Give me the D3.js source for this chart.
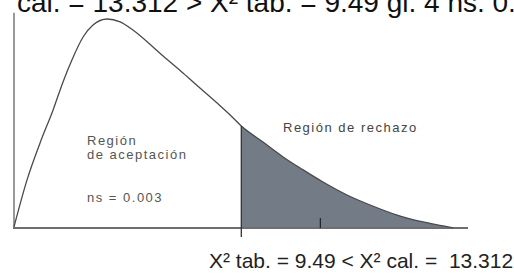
<!DOCTYPE html>
<html>
<head>
<meta charset="utf-8">
<script src="https://cdn.jsdelivr.net/npm/d3@7"></script>
<style>
  body { margin: 0; background: #fff; }
  svg { display: block; font-family: "Liberation Sans", Arial, sans-serif; }
  text { white-space: pre; }
</style>
</head>
<body>
<svg id="chart" width="514" height="275"></svg>
<script>
// values (schematic chi-square curve)
var curveX = [-1.5, -0.87, -0.24, 0.39, 0.87, 1.30, 1.84, 2.32, 3.00, 3.63, 4.25, 5.22, 5.71, 6.67, 7.49, 8.32, 8.95, 9.49,
              10.54, 11.51, 12.48, 13.44, 14.60, 15.72, 17.02, 18.28, 19.25, 19.73];
var curveY = [0.5, 23.0, 40.7, 56.5, 69.9, 80.4, 91.4, 97.1, 100, 98.6, 94.7, 86.6, 82.3, 74.2, 67.0, 59.8, 54.1, 48.8,
              41.1, 34.0, 27.8, 22.0, 15.8, 11.0, 6.2, 2.9, 1.0, 0];
var critValue = 9.49;   // X2 tab.
var calcValue = 13.312; // X2 cal.
var acceptLabels = ["Región", "de aceptación"];
var nsLabel = "ns = 0.003";
var rejectLabel = "Región de rechazo";
var topTitle = "cal. = 13.312 > X\u00b2 tab. = 9.49 gl. 4 ns. 0.05";
var bottomTitle = "X\u00b2 tab. = 9.49 < X\u00b2 cal. =  13.312";

var svg = d3.select("#chart");

//scales
var x = d3.scaleLinear().domain([-1.5, 20.45]).range([14, 468]);
var y = d3.scaleLinear().domain([0, 100]).range([228, 19]);

var pts = curveX.map(function (d, i) { return {x: d, y: curveY[i]}; });
var tail = pts.filter(function (d) { return d.x >= critValue; });

var line = d3.line().x(function (d) { return x(d.x); }).y(function (d) { return y(d.y); }).curve(d3.curveMonotoneX);
var area = d3.area().x(function (d) { return x(d.x); }).y0(y(0)).y1(function (d) { return y(d.y); }).curve(d3.curveMonotoneX);

/* rejection region */
svg.append("path").attr("d", area(tail)).attr("fill", "#737b86");

/* axes */
svg.append("line")
    .attr("x1", x(-1.5)).attr("x2", x(-1.5))
    .attr("y1", y(0)).attr("y2", y(103))
    .attr("stroke", "#999").attr("stroke-width", 2);
svg.append("line")
    .attr("x1", x.range()[0] - 1).attr("x2", x.range()[1])
    .attr("y1", y(0)).attr("y2", y(0))
    .attr("stroke", "#6f6f6f").attr("stroke-width", 2);

// curve
svg.append("path").attr("d", line(pts))
    .attr("fill", "none").attr("stroke", "#4a4a4a").attr("stroke-width", 1.3);

// critical value line + calc tick
var critY = curveY[curveX.indexOf(critValue)];
svg.append("line")
    .attr("x1", x(critValue)).attr("x2", x(critValue))
    .attr("y1", y(critY)).attr("y2", y(0) + 9)
    .attr("stroke", "#333").attr("stroke-width", 1.3);
svg.append("line")
    .attr("x1", x(calcValue)).attr("x2", x(calcValue))
    .attr("y1", y(0) - 10).attr("y2", y(0))
    .attr("stroke", "#222").attr("stroke-width", 1.2);

/* labels */
var lab = svg.append("g").attr("fill", "#555").attr("font-size", 13).attr("letter-spacing", 1.5);
lab.selectAll("text.acc").data(acceptLabels).enter().append("text")
    .attr("class", "acc").attr("x", 87).attr("y", function (d, i) { return 145 + i * 14; })
    .text(function (d) { return d; });
lab.append("text").attr("x", 87).attr("y", 202).text(nsLabel);
lab.append("text").attr("x", 283).attr("y", 132).attr("fill", "#444").text(rejectLabel);

svg.append("text").attr("x", 17).attr("y", 12).attr("font-size", 28).attr("fill", "#111").text(topTitle);
svg.append("text").attr("x", 209).attr("y", 268).attr("font-size", 21).attr("fill", "#222").text(bottomTitle);
</script>
</body>
</html>
